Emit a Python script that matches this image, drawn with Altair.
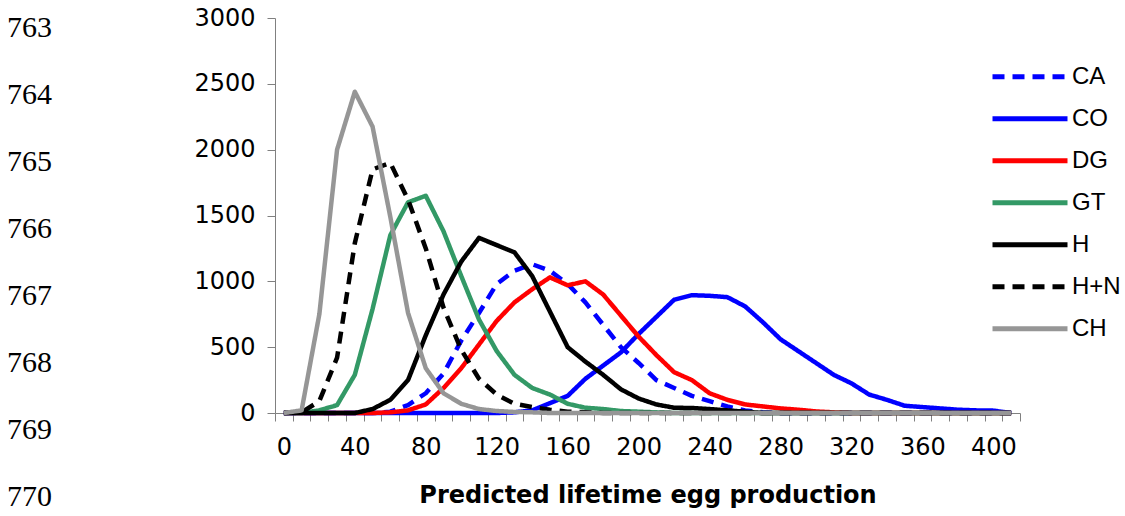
import altair as alt
import pandas as pd

# categories (predicted lifetime egg production bins)
egg_bins = [0, 10, 20, 30, 40, 50, 60, 70, 80, 90, 100, 110, 120, 130, 140, 150, 160, 170, 180, 190, 200,
            210, 220, 230, 240, 250, 260, 270, 280, 290, 300, 310, 320, 330, 340, 350, 360, 370, 380, 390, 400, 410]

series_names = ["CA", "CO", "DG", "GT", "H", "H+N", "CH"]

ca = [0, 0, 0, 0, 0, 0, 10, 60, 150, 300, 550, 760, 980, 1080, 1130, 1080, 980, 840, 670, 500, 380,
      250, 190, 130, 90, 50, 20, 5, 0, 0, 0, 0, 0, 0, 0, 0, 0, 0, 0, 0, 0, 0]
co = [0, 0, 0, 0, 0, 0, 0, 0, 0, 0, 0, 0, 0, 5, 20, 75, 130, 260, 360, 460, 600,
      730, 860, 895, 890, 880, 810, 690, 560, 470, 380, 290, 225, 140, 100, 55, 45, 35, 25, 20, 18, 0]
dg = [0, 0, 0, 0, 0, 0, 5, 20, 65, 190, 340, 520, 700, 840, 940, 1030, 970, 1000, 900, 740, 580,
      440, 310, 250, 150, 100, 65, 50, 35, 25, 12, 5, 0, 0, 0, 0, 0, 0, 0, 0, 0, 0]
gt = [0, 0, 20, 60, 290, 790, 1350, 1600, 1650, 1380, 1040, 710, 470, 290, 190, 140, 70, 40, 30, 15, 10,
      5, 0, 0, 0, 0, 0, 0, 0, 0, 0, 0, 0, 0, 0, 0, 0, 0, 0, 0, 0, 0]
h = [0, 0, 0, 0, 0, 30, 100, 250, 590, 900, 1150, 1330, 1275, 1220, 1040, 770, 500, 390, 290, 180, 110,
     65, 40, 38, 30, 20, 10, 0, 0, 0, 0, 0, 0, 0, 0, 0, 0, 0, 0, 0, 0, 0]
hn = [0, 5, 90, 420, 1290, 1850, 1900, 1620, 1250, 800, 480, 260, 140, 70, 45, 25, 10, 5, 0, 0, 0,
      0, 0, 0, 0, 0, 0, 0, 0, 0, 0, 0, 0, 0, 0, 0, 0, 0, 0, 0, 0, 0]
ch = [0, 20, 750, 2000, 2440, 2175, 1490, 760, 340, 150, 70, 30, 15, 8, 5, 0, 0, 0, 0, 0, 0,
      0, 0, 0, 0, 0, 0, 0, 0, 0, 0, 0, 0, 0, 0, 0, 0, 0, 0, 0, 0, 0]

series_colors = ["#0000FF", "#0000FF", "#FF0000", "#339966", "#000000", "#000000", "#969696"]
series_dashes = [[12, 8], [1, 0], [1, 0], [1, 0], [1, 0], [12, 8], [1, 0]]

y_ticks = [0, 500, 1000, 1500, 2000, 2500, 3000]
line_numbers = [763, 764, 765, 766, 767, 768, 769, 770]

rows = []
for name, vals in zip(series_names, [ca, co, dg, gt, h, hn, ch]):
    for xv, yv in zip(egg_bins, vals):
        rows.append({"egg": xv, "count": yv, "series": name})
df = pd.DataFrame(rows)

legend = alt.Legend(
    title=None, orient="none", legendX=715, legendY=38,
    symbolType="stroke", symbolSize=5625, symbolStrokeWidth=5,
    clipHeight=41.3, rowPadding=0, labelOffset=2,
    labelFont="Liberation Sans", labelFontSize=24, labelColor="black",
)

lines = alt.Chart(df).mark_line(strokeWidth=4.5, strokeJoin="round").encode(
    x=alt.X(
        "egg:O",
        sort=egg_bins,
        scale=alt.Scale(type="band", paddingInner=0, paddingOuter=0),
        axis=alt.Axis(
            title="Predicted lifetime egg production",
            labelExpr="datum.value % 40 == 0 ? datum.label : ''",
            labelAngle=0, tickBand="extent", tickSize=8, tickColor="#808080",
            domainColor="#808080", labelFont="DejaVu Sans", labelFontSize=24,
            labelColor="black", labelPadding=14, labelOverlap=False,
            titleFont="DejaVu Sans", titleFontSize=24, titleFontWeight="bold",
            titleColor="black", titlePadding=24, grid=False,
        ),
    ),
    y=alt.Y(
        "count:Q",
        scale=alt.Scale(domain=[0, 3000], nice=False),
        axis=alt.Axis(
            title=None, values=y_ticks, format="d", grid=False, tickSize=8, tickColor="#808080",
            domainColor="#808080", labelFont="DejaVu Sans", labelFontSize=24,
            labelColor="black", labelPadding=12,
        ),
    ),
    color=alt.Color("series:N", sort=series_names,
                    scale=alt.Scale(domain=series_names, range=series_colors), legend=legend),
    strokeDash=alt.StrokeDash("series:N", sort=series_names,
                              scale=alt.Scale(domain=series_names, range=series_dashes), legend=legend),
)

nums = alt.Chart(pd.DataFrame({"n": line_numbers})).mark_text(
    font="Liberation Serif", fontSize=30, align="left", baseline="middle", color="black"
).encode(
    y=alt.Y("n:Q", scale=alt.Scale(domain=[763, 770], range=[9.5, 479], nice=False, zero=False), axis=None),
    x=alt.value(-268),
    text="n:Q",
)

chart = alt.layer(lines, nums).resolve_scale(y="independent").properties(
    width=745, height=395,
    autosize=alt.AutoSizeParams(type="none"),
    padding={"left": 275, "top": 18, "right": 105, "bottom": 103},
    background="white",
).configure_view(stroke=None)

chart.save("out.html", embed_options={"renderer": "svg", "actions": False})
